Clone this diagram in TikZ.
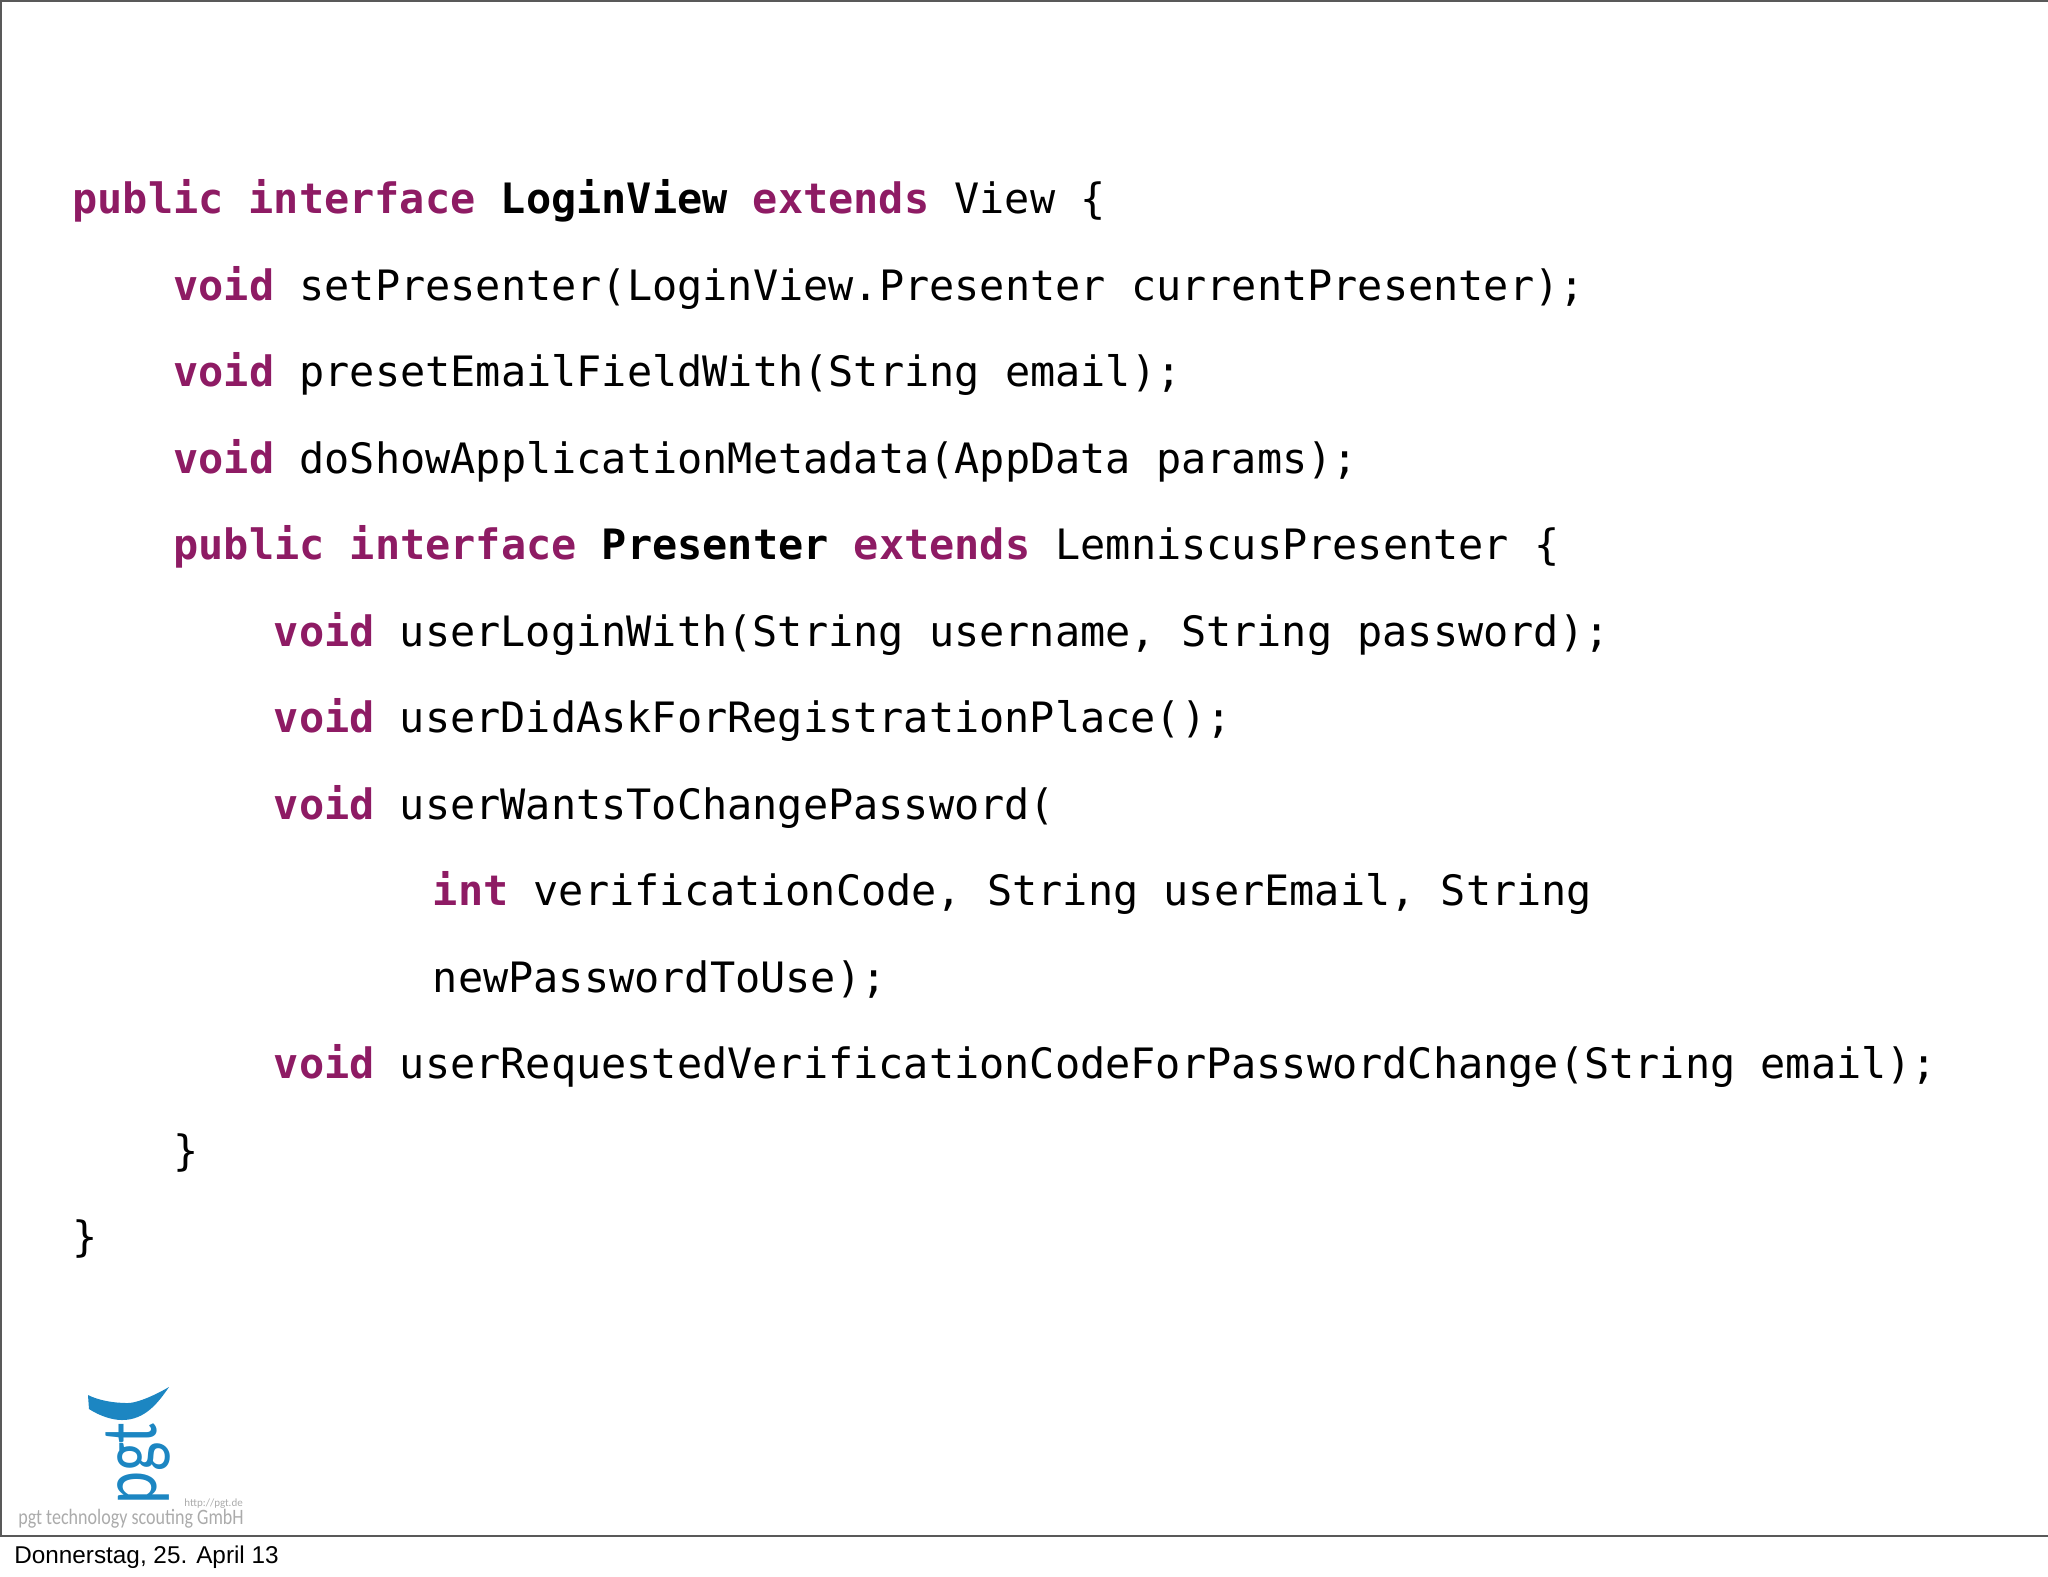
\documentclass[tikz,border=0pt]{standalone}
\usepackage{fontspec}
\setmainfont{Liberation Sans}
\setmonofont{DejaVu Sans Mono}
\newfontfamily\logofont{Carlito}
\definecolor{kwpurple}{HTML}{8E1B64}
\definecolor{pgtblue}{HTML}{1C86C2}
\definecolor{pgtgrey}{HTML}{ABABAB}
\newcommand{\kw}[1]{\textcolor{kwpurple}{\textbf{#1}}}
\tikzset{
 codeline/.style={anchor=base west,inner sep=0pt,font=\ttfamily\fontsize{20.93}{25}\selectfont,text=black},
 logotext/.style={anchor=base west,inner sep=0pt,text=pgtgrey,font=\logofont},
}
\begin{document}
\begin{tikzpicture}[x=0.5pt,y=-0.5pt]
\useasboundingbox (0,0) rectangle (2048,1576);
\draw[black!65,line width=0.8pt] (1,1) rectangle (2049,1536);
\node[codeline] (l1) at (72,213.5) {\kw{public interface} \textbf{LoginView} \kw{extends} View \{};
\node[codeline] (l2) at (173,300) {\kw{void} setPresenter(LoginView.Presenter currentPresenter);};
\node[codeline] (l3) at (173,386.5) {\kw{void} presetEmailFieldWith(String email);};
\node[codeline] (l4) at (173,473) {\kw{void} doShowApplicationMetadata(AppData params);};
\node[codeline] (l5) at (173,559.5) {\kw{public interface} \textbf{Presenter} \kw{extends} LemniscusPresenter \{};
\node[codeline] (l6) at (273.5,646) {\kw{void} userLoginWith(String username, String password);};
\node[codeline] (l7) at (273.5,732.5) {\kw{void} userDidAskForRegistrationPlace();};
\node[codeline] (l8) at (273.5,819) {\kw{void} userWantsToChangePassword(};
\node[codeline] (l9) at (432.5,905.5) {\kw{int} verificationCode, String userEmail, String};
\node[codeline] (l10) at (432.5,992) {newPasswordToUse);};
\node[codeline] (l11) at (273.5,1078.5) {\kw{void} userRequestedVerificationCodeForPasswordChange(String email);};
\node[codeline] (l12) at (173,1165) {\}};
\node[codeline] (l13) at (72,1251.5) {\}};
% logo
\fill[pgtblue] (169,1387) .. controls (150,1398) and (135,1403) .. (128,1403)
 .. controls (112,1403) and (98,1400) .. (88,1395) -- (89,1409)
 .. controls (100,1416) and (112,1420) .. (122,1420)
 .. controls (145,1420) and (158,1403) .. (169,1387) -- cycle;
\node[anchor=base west,inner sep=0pt,text=pgtblue,font=\logofont\fontsize{40}{40}\selectfont,rotate=90] (logo) at (156,1505) {\scalebox{.78}[1]{pgt}};
\node[logotext,font=\logofont\fontsize{11}{11}\selectfont] (firm) at (18,1524) {\scalebox{.82}[1]{pgt technology scouting GmbH}};
\node[logotext,font=\logofont\fontsize{5.5}{6}\selectfont] (url) at (184,1506) {http://pgt.de};
\node[anchor=base west,inner sep=0pt,font=\fontsize{12.15}{14}\selectfont] (date) at (14,1563) {Donnerstag, 25. April 13};
\end{tikzpicture}
\end{document}
